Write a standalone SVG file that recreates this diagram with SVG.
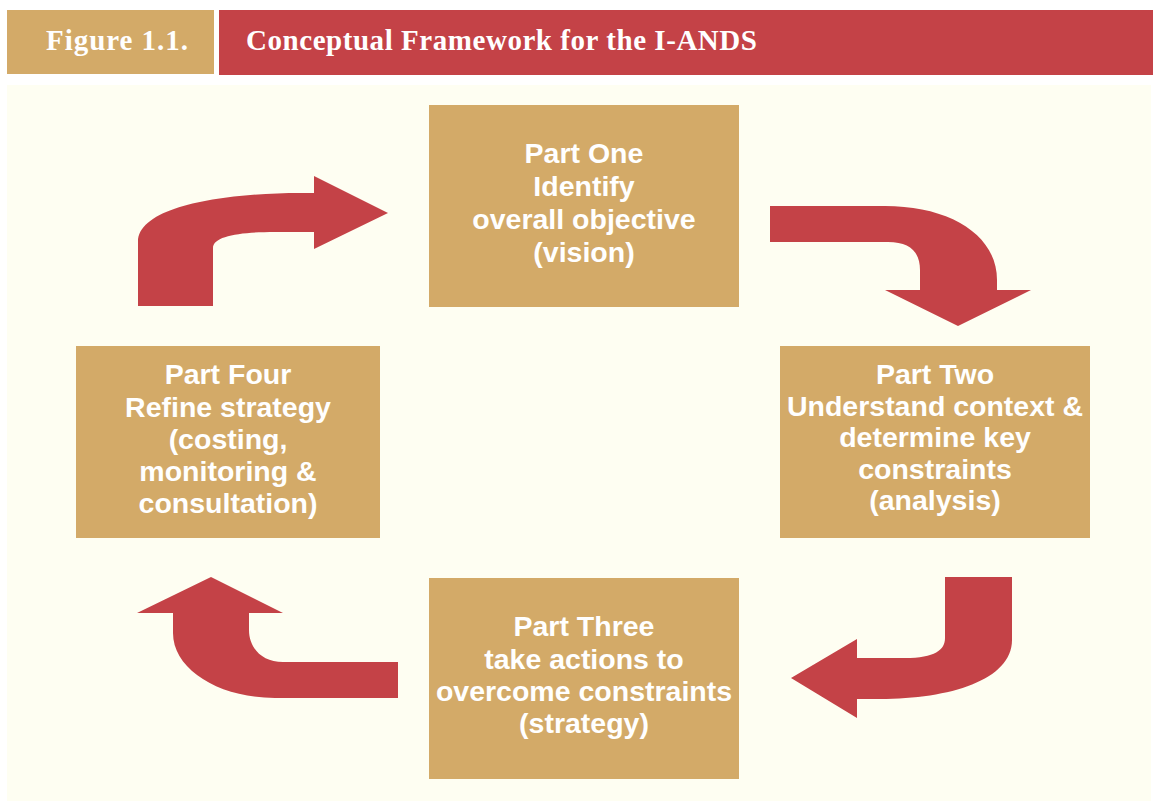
<svg xmlns="http://www.w3.org/2000/svg" width="1153" height="801" viewBox="0 0 1153 801">
<style>
.hdr{font-family:"Liberation Serif","Times New Roman",serif;font-weight:bold;font-size:29px;fill:#ffffff;}
.box{fill:#D3AA68;}
.lbl{font-family:"Liberation Sans",Arial,sans-serif;font-weight:bold;font-size:28.5px;fill:#ffffff;text-anchor:middle;}
.arr{fill:#C44247;}
</style>
<rect x="0" y="0" width="1153" height="801" fill="#ffffff"/>
<g id="header">
<rect x="7" y="10" width="207" height="64" fill="#D3AA68"/>
<rect x="219" y="10" width="934" height="65" fill="#C44247"/>
<text class="hdr" x="46" y="50" textLength="142" lengthAdjust="spacing">Figure 1.1.</text>
<text class="hdr" x="246" y="50" textLength="511" lengthAdjust="spacing">Conceptual Framework for the I-ANDS</text>
</g>
<rect id="panel" x="7" y="85" width="1144" height="716" fill="#FEFEF2"/>
<g id="connectors">
<path class="arr" d="M138,306 L138,242 C138,205 230,193 300,193 L314,193 L314,176 L388,213 L314,249 L314,232 L275,232 C240,232 213,236 213,248 L213,306 Z"/>
<path class="arr" d="M770,206 L885,206 C950,206 997,235 997,280 L997,290 L1031,290 L958,326 L885,290 L920,290 L920,270 C920,252 910,242 888,242 L770,242 Z"/>
<path class="arr" d="M945,577 L1012,577 L1012,640 C1012,680 950,699 880,699 L857,699 L857,718 L791,678 L857,639 L857,658 L905,658 C935,658 945,650 945,638 Z"/>
<path class="arr" d="M398,662 L283,662 C262,662 249,648 249,630 L249,613 L283,613 L211,577 L137,613 L173,613 L173,633 C173,670 220,698 275,698 L398,698 Z"/>
</g>
<g id="part-one">
<rect class="box" x="429" y="105" width="310" height="202"/>
<text class="lbl" x="584" y="163">Part One</text>
<text class="lbl" x="584" y="196">Identify</text>
<text class="lbl" x="584" y="229">overall objective</text>
<text class="lbl" x="584" y="262">(vision)</text>
</g>
<g id="part-two">
<rect class="box" x="780" y="346" width="310" height="192"/>
<text class="lbl" x="935" y="384">Part Two</text>
<text class="lbl" x="935" y="416">Understand context &amp;</text>
<text class="lbl" x="935" y="447">determine key</text>
<text class="lbl" x="935" y="479">constraints</text>
<text class="lbl" x="935" y="510">(analysis)</text>
</g>
<g id="part-three">
<rect class="box" x="429" y="578" width="310" height="201"/>
<text class="lbl" x="584" y="636">Part Three</text>
<text class="lbl" x="584" y="669">take actions to</text>
<text class="lbl" x="584" y="701">overcome constraints</text>
<text class="lbl" x="584" y="733">(strategy)</text>
</g>
<g id="part-four">
<rect class="box" x="76" y="346" width="304" height="192"/>
<text class="lbl" x="228" y="384">Part Four</text>
<text class="lbl" x="228" y="417">Refine strategy</text>
<text class="lbl" x="228" y="449">(costing,</text>
<text class="lbl" x="228" y="481">monitoring &amp;</text>
<text class="lbl" x="228" y="513">consultation)</text>
</g>
</svg>
